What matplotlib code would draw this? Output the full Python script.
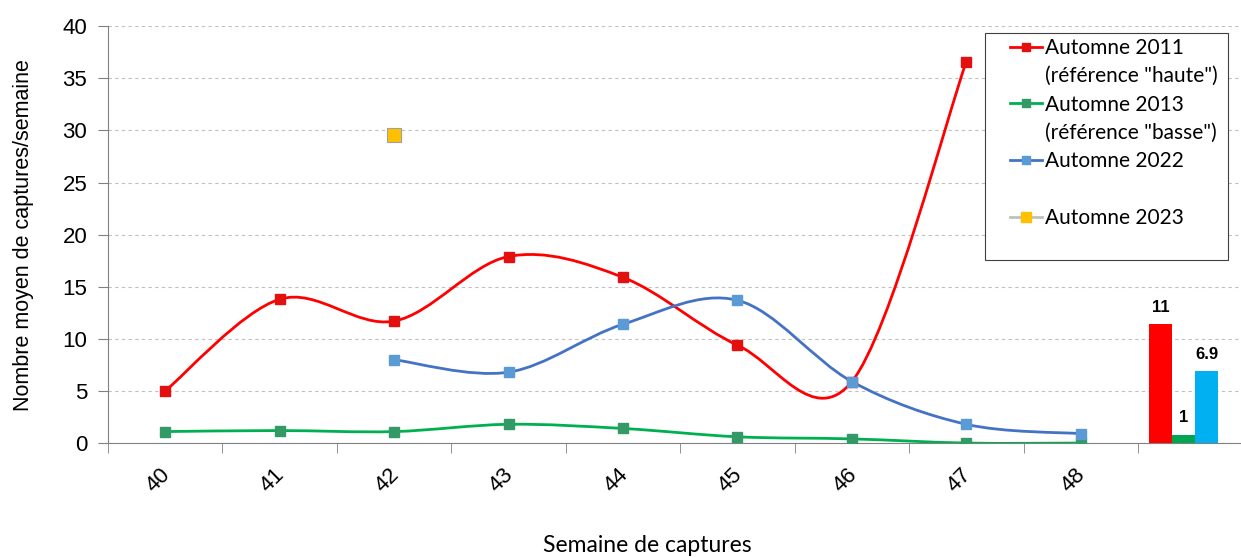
import numpy as np
import matplotlib.pyplot as plt
import matplotlib.transforms as mtransforms
from matplotlib.path import Path
from matplotlib.patches import PathPatch, Rectangle
from matplotlib.lines import Line2D

# Weekly mean captures (weeks 40..48)
weeks = ["40", "41", "42", "43", "44", "45", "46", "47", "48"]
autumn_2011 = [5.0, 13.8, 11.7, 17.9, 15.9, 9.4, 5.9, 36.6, None]
autumn_2013 = [1.1, 1.2, 1.1, 1.8, 1.4, 0.6, 0.4, 0.0, 0.0]
autumn_2022 = [None, None, 8.0, 6.8, 11.4, 13.7, 5.9, 1.8, 0.9]
autumn_2023 = [None, None, 29.6, None, None, None, None, None, None]

# Season means shown as bars on the right
bar_values = [11.4, 0.8, 6.9]
bar_labels = ["11", "1", "6.9"]
bar_colors = ["#ff0000", "#00a651", "#00b0f0"]

plt.rcParams['font.family'] = ['Liberation Sans', 'DejaVu Sans']

fig = plt.figure(figsize=(12.41, 5.58), dpi=100)
ax = fig.add_axes([0.087, 0.206, 0.913, 0.747])


def smooth_path(xs, ys):
    # Excel-like smoothed line: cubic Bezier through each point
    pts = np.column_stack([xs, ys])
    n = len(pts)
    verts = [pts[0]]
    codes = [Path.MOVETO]
    for i in range(n - 1):
        p0 = pts[i - 1] if i > 0 else pts[i]
        p1 = pts[i]
        p2 = pts[i + 1]
        p3 = pts[i + 2] if i + 2 < n else pts[i + 1]
        c1 = p1 + (p2 - p0) / 6.0
        c2 = p2 - (p3 - p1) / 6.0
        verts += [c1, c2, p2]
        codes += [Path.CURVE4] * 3
    return Path(verts, codes)


series = [
    (autumn_2011, "#ff0000", "#e31010"),
    (autumn_2013, "#00b050", "#339966"),
    (autumn_2022, "#4472c4", "#5b9bd5"),
]
for vals, lcol, mcol in series:
    xs = [i for i, v in enumerate(vals) if v is not None]
    ys = [v for v in vals if v is not None]
    ax.add_patch(PathPatch(smooth_path(xs, ys), fill=False, edgecolor=lcol,
                           lw=2.0, zorder=3))
    ax.plot(xs, ys, ls="none", marker="s", ms=7.5, color=mcol, zorder=4)

xs = [i for i, v in enumerate(autumn_2023) if v is not None]
ys = [v for v in autumn_2023 if v is not None]
ax.plot(xs, ys, ls="none", marker="s", ms=9.5, color="#ffc000",
        markeredgecolor="#a0a0a0", markeredgewidth=0.8, zorder=4)

# bars at the extra category
bx = len(weeks)
offsets = [-0.3, -0.1, 0.1]
for off, v, lab, col in zip(offsets, bar_values, bar_labels, bar_colors):
    ax.bar(bx + off, v, width=0.2, color=col, zorder=3)
    ax.text(bx + off, v + 0.9, lab, ha="center", va="bottom",
            fontsize=12, fontweight="bold")

ax.set_xlim(-0.5, 9.4)
ax.set_ylim(0, 40)
ax.set_yticks(range(0, 41, 5))
ax.tick_params(axis="y", labelsize=16, length=7, color="#808080", pad=8)
ax.set_xticks(range(len(weeks)))
ax.set_xticklabels(weeks, rotation=45, fontsize=16)
ax.tick_params(axis="x", length=0, pad=15)
shift = mtransforms.ScaledTranslation(-7 / 100, 0, fig.dpi_scale_trans)
for lab in ax.get_xticklabels():
    lab.set_transform(lab.get_transform() + shift)
ax.set_xticks(np.arange(-0.5, 9.5, 1), minor=True)
ax.tick_params(axis="x", which="minor", length=7, color="#808080")
ax.grid(axis="y", linestyle=(0, (3, 3)), color="#c0c0c0", lw=0.8)
ax.set_axisbelow(True)
for s in ["top", "right"]:
    ax.spines[s].set_visible(False)
for s in ["left", "bottom"]:
    ax.spines[s].set_color("#808080")

ax.set_ylabel("Nombre moyen de captures/semaine", fontsize=15.5, labelpad=20)
fig.text(0.522, 0.004, "Semaine de captures", ha="center", va="bottom",
         fontsize=16.5, family=["Lato", "DejaVu Sans"])

# legend (frame drawn separately so the box can be wider than the entries)
ax.add_patch(Rectangle((0.774, 0.439), 0.2145, 0.544, transform=ax.transAxes,
                       facecolor="white", edgecolor="#404040", lw=0.8, zorder=5))
blank = Line2D([], [], ls="none")
handles = [
    Line2D([], [], color="#ff0000", marker="s", ms=6, mfc="#e31010", mec="#e31010", lw=2),
    blank,
    Line2D([], [], color="#00b050", marker="s", ms=6, mfc="#339966", mec="#339966", lw=2),
    blank,
    Line2D([], [], color="#4472c4", marker="s", ms=6, mfc="#5b9bd5", mec="#5b9bd5", lw=2),
    blank,
    Line2D([], [], color="#c0c0c0", marker="s", ms=7, mfc="#ffc000", mec="#ffc000", lw=2),
]
labels = ["Automne 2011", '(référence "haute")', "Automne 2013",
          '(référence "basse")', "Automne 2022", " ", "Automne 2023"]
leg = ax.legend(handles, labels, loc="upper left", bbox_to_anchor=(0.796, 0.972),
                prop={"family": ["Lato", "DejaVu Sans"], "size": 15},
                frameon=False, handlelength=1.55, handletextpad=0.15,
                labelspacing=0.4, borderpad=0, borderaxespad=0)
leg.set_zorder(6)

fig.savefig("out.png", dpi=100)
